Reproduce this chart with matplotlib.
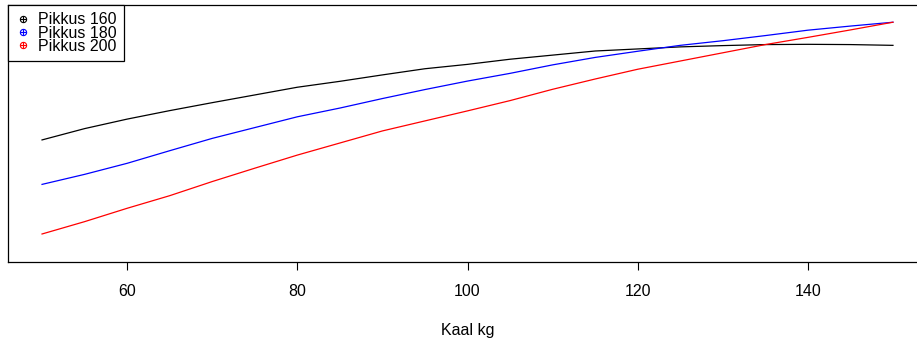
#!/usr/bin/env python3
"""
Kaal vs Pikkus kõverad (R-stiilis joonis)
"""

import matplotlib
matplotlib.use('Agg')
import matplotlib.pyplot as plt
from matplotlib.lines import Line2D
from matplotlib.legend_handler import HandlerTuple

plt.rcParams['font.family'] = ['Liberation Sans', 'DejaVu Sans']

# andmed (väärtused loetud pildilt, suhtelised ühikud)
kaal = [50, 55, 60, 65, 70, 75, 80, 85, 90, 95, 100,
        105, 110, 115, 120, 125, 130, 135, 140, 145, 150]
pikkus_160 = [0.475, 0.519, 0.556, 0.589, 0.620, 0.650, 0.680, 0.703, 0.728, 0.752, 0.769,
              0.789, 0.805, 0.821, 0.829, 0.837, 0.842, 0.846, 0.847, 0.846, 0.843]
pikkus_180 = [0.302, 0.341, 0.384, 0.433, 0.481, 0.523, 0.565, 0.599, 0.636, 0.671, 0.704,
              0.734, 0.767, 0.796, 0.820, 0.843, 0.861, 0.881, 0.902, 0.918, 0.933]
pikkus_200 = [0.109, 0.157, 0.209, 0.258, 0.313, 0.365, 0.416, 0.463, 0.510, 0.549, 0.588,
              0.628, 0.672, 0.712, 0.750, 0.782, 0.814, 0.846, 0.874, 0.903, 0.933]
sildid = ['Pikkus 160', 'Pikkus 180', 'Pikkus 200']
varvid = ['black', 'blue', 'red']
x_ticks = [60, 80, 100, 120, 140]

fig = plt.figure(figsize=(9.17, 3.40), dpi=100)
ax = fig.add_axes([8 / 917, 78 / 340, 919 / 917, 257 / 340])

for y, c in zip([pikkus_160, pikkus_180, pikkus_200], varvid):
    ax.plot(kaal, y, color=c, linewidth=0.9)

ax.set_xlim(46, 154)
ax.set_ylim(0, 1)
ax.set_xticks(x_ticks)
ax.set_yticks([])
ax.tick_params(axis='x', direction='out', length=6, width=0.8,
               labelsize=11.5, pad=10)
ax.set_xlabel('Kaal kg', fontsize=11.5, labelpad=17)
for s in ax.spines.values():
    s.set_linewidth(0.9)
    s.set_color('black')

# legend: ring ja pluss üksteise peal (nagu R pch=10)
handles = []
for c in varvid:
    ring = Line2D([], [], linestyle='none', marker='o', markersize=4.5,
                  markerfacecolor='none', markeredgecolor=c, markeredgewidth=0.8)
    plus = Line2D([], [], linestyle='none', marker='+', markersize=4.5,
                  markeredgecolor=c, markeredgewidth=0.8)
    handles.append((ring, plus))

leg = ax.legend(handles, sildid, loc='upper left', fontsize=11.5,
                handler_map={tuple: HandlerTuple(ndivide=1)},
                handlelength=1.0, handletextpad=0.45, labelspacing=-0.1,
                borderpad=0.45, borderaxespad=0, fancybox=False,
                framealpha=1, edgecolor='black')
leg.get_frame().set_linewidth(0.9)

plt.savefig('out.png', dpi=100)
plt.close()
